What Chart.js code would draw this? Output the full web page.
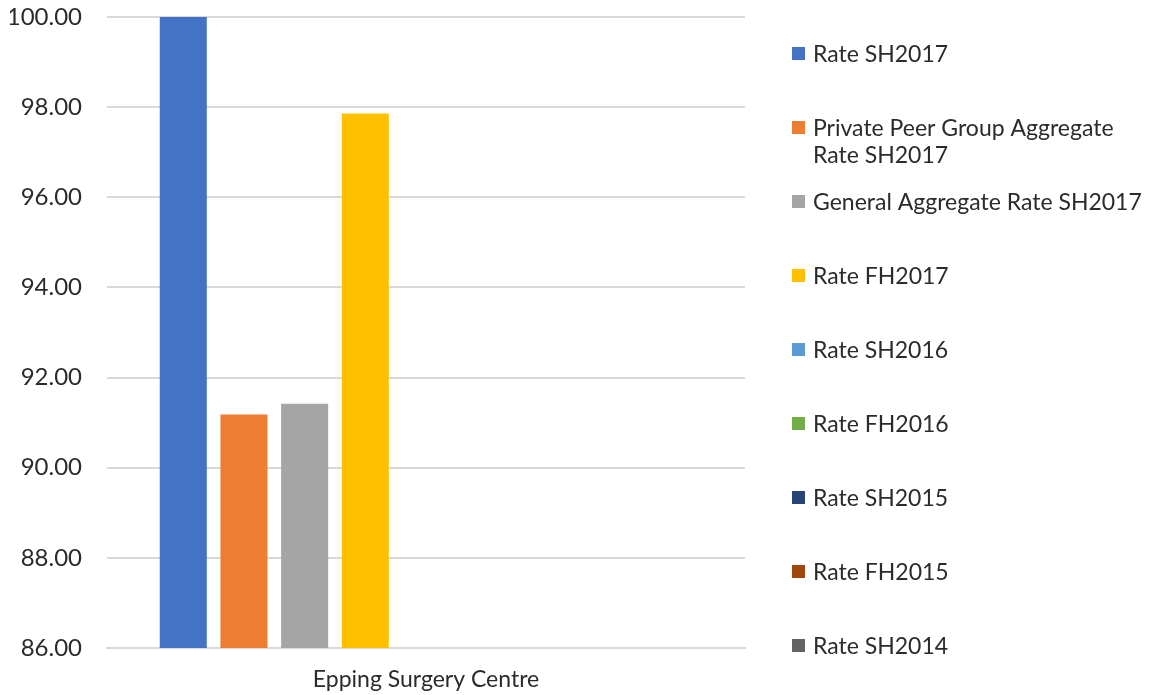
<!DOCTYPE html>
<html>
<head>
<meta charset="utf-8">
<script src="https://cdn.jsdelivr.net/npm/chart.js@4/dist/chart.umd.min.js"></script>
<style>
  html, body { margin: 0; padding: 0; background: #fff; }
  #wrap { width: 1159px; height: 695px; position: relative; }
</style>
</head>
<body>
<div id="wrap"><canvas id="c" width="1159" height="695"></canvas></div>
<script>
const categories = ["Epping Surgery Centre"];
const seriesLabels = [
  "Rate SH2017",
  ["Private Peer Group Aggregate", "Rate SH2017"],
  "General Aggregate Rate SH2017",
  "Rate FH2017",
  "Rate SH2016",
  "Rate FH2016",
  "Rate SH2015",
  "Rate FH2015",
  "Rate SH2014"
];
const seriesValues = [
  [100.00],
  [91.18],
  [91.42],
  [97.86],
  [null],
  [null],
  [null],
  [null],
  [null]
];
const seriesColors = ["#4472C4", "#ED7D31", "#A5A5A5", "#FFC000", "#5B9BD5", "#70AD47", "#264478", "#9E480E", "#636363"];
const yTicks = [86, 88, 90, 92, 94, 96, 98, 100];

const FONT = "Lato, 'Open Sans', sans-serif";
const TEXT = "#2b2b2b";

const legendPlugin = {
  id: 'sideLegend',
  afterDraw(chart) {
    const ctx = chart.ctx;
    ctx.save();
    ctx.font = "23px " + FONT;
    ctx.textBaseline = "middle";
    ctx.textAlign = "left";
    chart.data.datasets.forEach((ds, i) => {
      const y = 53.5 + 74 * i;
      ctx.fillStyle = ds.backgroundColor;
      ctx.fillRect(792, y - 6.5, 13, 13);
      ctx.fillStyle = TEXT;
      const lines = Array.isArray(ds.label) ? ds.label : [ds.label];
      lines.forEach((t, k) => ctx.fillText(t, 813, y + 1 + 27 * k));
    });
    ctx.restore();
  }
};

new Chart(document.getElementById('c'), {
  type: 'bar',
  data: {
    labels: categories,
    datasets: seriesLabels.map((lab, i) => ({
      label: lab,
      data: seriesValues[i],
      backgroundColor: seriesColors[i],
      borderWidth: 0,
      categoryPercentage: 0.856,
      barPercentage: 0.775
    }))
  },
  options: {
    responsive: false,
    animation: false,
    layout: { padding: { left: 10, right: 414, top: 17, bottom: 1 } },
    plugins: {
      legend: { display: false },
      tooltip: { enabled: false }
    },
    scales: {
      x: {
        afterFit(scale) { scale.height = 46; scale.paddingLeft = 0; scale.paddingRight = 0; },
        grid: { display: false, drawTicks: false },
        border: { display: true, color: "#d9d9d9", width: 2 },
        ticks: { color: TEXT, font: { family: FONT, size: 23 }, padding: 18 }
      },
      y: {
        min: 86, max: 100,
        afterFit(scale) { scale.width = 97; scale.paddingTop = 0; scale.paddingBottom = 0; },
        afterBuildTicks(axis) { axis.ticks = yTicks.map(v => ({ value: v })); },
        grid: { color: "#d9d9d9", lineWidth: 2, drawTicks: false },
        border: { display: false },
        ticks: {
          color: TEXT, font: { family: FONT, size: 24 }, padding: 25,
          callback: v => Number(v).toFixed(2)
        }
      }
    }
  },
  plugins: [legendPlugin]
});
</script>
</body>
</html>
